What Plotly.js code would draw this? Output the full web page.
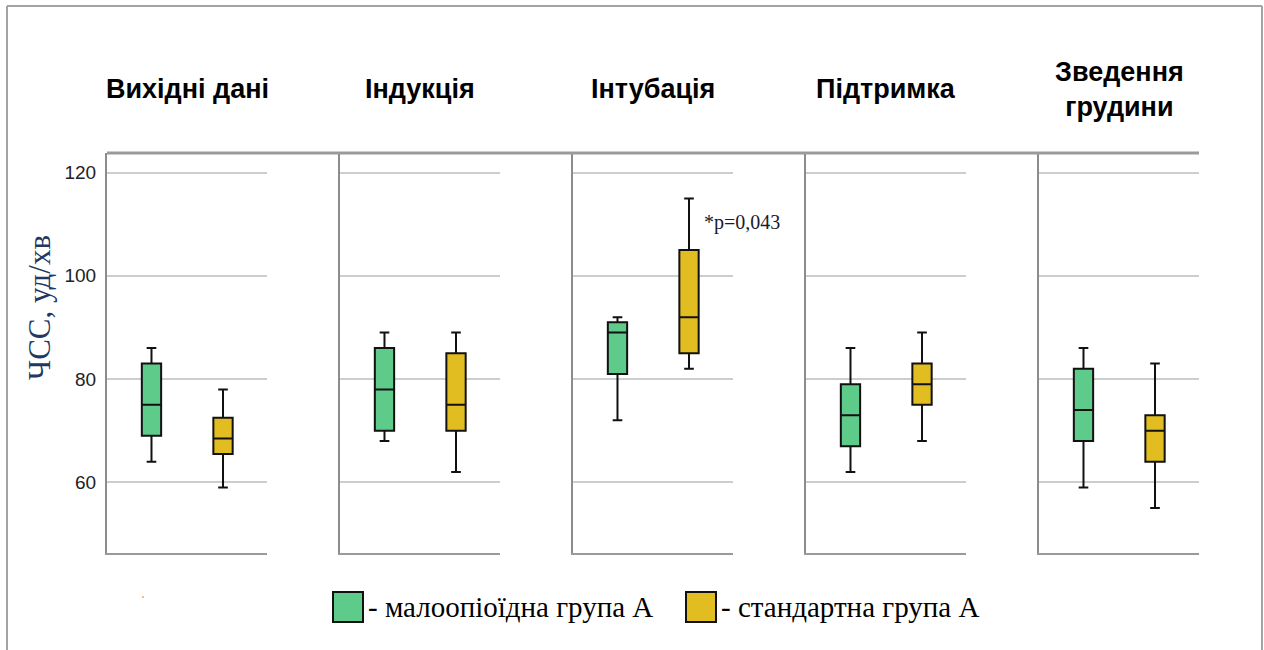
<!DOCTYPE html>
<html>
<head>
<meta charset="utf-8">
<script src="https://cdn.plot.ly/plotly-3.0.1.min.js"></script>
<style>
  html, body { margin: 0; padding: 0; background: #ffffff; }
  #chart { width: 1264px; height: 650px; }
</style>
</head>
<body>
<div id="chart"></div>
<script>
// ---- data ----
const stages = ['Вихідні дані', 'Індукція', 'Інтубація', 'Підтримка', 'Зведення<br>грудини'];
const groupNames = ['малоопіоїдна група А', 'стандартна група А'];

// малоопіоїдна група А (green)
const greenLower  = [64, 68, 72, 62, 59];
const greenQ1     = [69, 70, 81, 67, 68];
const greenMedian = [75, 78, 89, 73, 74];
const greenQ3     = [83, 86, 91, 79, 82];
const greenUpper  = [86, 89, 92, 86, 86];

// стандартна група А (yellow)
const yellowLower  = [59, 62, 82, 68, 55];
const yellowQ1     = [65.5, 70, 85, 75, 64];
const yellowMedian = [68.5, 75, 92, 79, 70];
const yellowQ3     = [72.5, 85, 105, 83, 73];
const yellowUpper  = [78, 89, 115, 89, 83];

const yTickVals = [60, 80, 100, 120];
const yTitle = 'ЧСС, уд/хв';
const pNote = '*p=0,043';
const pNoteStage = 2;

// ---- styling / layout helpers ----
const W = 1264, H = 650;
const M = {l: 107, r: 65, t: 153, b: 97};
const PW = W - M.l - M.r, PH = H - M.t - M.b;
const px = x => (x - M.l) / PW;        // page px -> paper x
const py = y => (H - M.b - y) / PH;     // page px -> paper y

const green = '#5ECB8B', yellow = '#E1BD21';
const panelStarts = [0, 233, 466, 699, 932];
const panelW = 160;
const yRange = [46.3, 123.8];
const xRange = [-0.622, 1.615];

const traces = [];
const layout = {
  width: W, height: H,
  margin: M,
  paper_bgcolor: '#ffffff',
  plot_bgcolor: '#ffffff',
  showlegend: false,
  font: {family: 'Liberation Sans, Arial, sans-serif', color: '#222'},
  shapes: [],
  annotations: []
};

stages.forEach((st, i) => {
  const n = i === 0 ? '' : String(i + 1);
  const xa = 'x' + n, ya = 'y' + n;
  traces.push({
    type: 'box', name: groupNames[0], x: [0],
    q1: [greenQ1[i]], median: [greenMedian[i]], q3: [greenQ3[i]],
    lowerfence: [greenLower[i]], upperfence: [greenUpper[i]],
    xaxis: xa, yaxis: ya, width: 0.27, whiskerwidth: 0.5,
    fillcolor: green, line: {color: '#111', width: 2}, boxpoints: false
  });
  traces.push({
    type: 'box', name: groupNames[1], x: [1],
    q1: [yellowQ1[i]], median: [yellowMedian[i]], q3: [yellowQ3[i]],
    lowerfence: [yellowLower[i]], upperfence: [yellowUpper[i]],
    xaxis: xa, yaxis: ya, width: 0.27, whiskerwidth: 0.5,
    fillcolor: yellow, line: {color: '#111', width: 2}, boxpoints: false
  });

  const s = panelStarts[i];
  layout['xaxis' + n] = {
    domain: [s / PW, (s + panelW) / PW],
    range: xRange, type: 'linear',
    showticklabels: false, ticks: '', showgrid: false, zeroline: false,
    showline: true, linecolor: '#9a9a9a', linewidth: 2,
    anchor: ya, fixedrange: true
  };
  const yax = {
    domain: [0, 1], range: yRange, anchor: xa,
    tickvals: yTickVals, showgrid: true, gridcolor: '#cdcdcd', gridwidth: 2,
    zeroline: false, showline: true, linecolor: '#8c8c8c', linewidth: 2,
    fixedrange: true, automargin: false
  };
  if (i === 0) {
    yax.showticklabels = true;
    yax.ticks = 'outside'; yax.ticklen = 5; yax.tickcolor = 'rgba(0,0,0,0)';
    yax.tickfont = {family: 'Liberation Sans, Arial, sans-serif', size: 19, color: '#222'};
  } else {
    yax.matches = 'y';
    yax.showticklabels = false;
    yax.ticks = '';
  }
  layout['yaxis' + n] = yax;

  // panel title
  layout.annotations.push({
    xref: xa + ' domain', yref: 'paper', x: 0.5, y: py(89),
    xanchor: 'center', yanchor: 'middle', showarrow: false,
    text: '<b>' + st + '</b>',
    font: {family: 'Liberation Sans, Arial, sans-serif', size: 27, color: '#000'}
  });
});

// y-axis title (placed as in the original, above the vertical centre)
layout.annotations.push({
  xref: 'paper', yref: 'paper', x: px(39), y: py(308),
  xanchor: 'center', yanchor: 'middle', showarrow: false, textangle: -90,
  text: yTitle,
  font: {family: 'Liberation Serif, Times New Roman, serif', size: 31, color: '#1F3864'}
});

// p-value note
layout.annotations.push({
  xref: 'x' + (pNoteStage + 1), yref: 'y' + (pNoteStage + 1),
  x: 1.18, y: 110.3, xanchor: 'left', yanchor: 'middle', showarrow: false,
  text: pNote,
  font: {family: 'Liberation Serif, Times New Roman, serif', size: 20, color: '#1a1a2e'}
});

// continuous top border across the panels
layout.shapes.push({type: 'line', xref: 'paper', yref: 'paper', x0: 0, x1: 1, y0: 1, y1: 1,
  line: {color: '#9a9a9a', width: 3}, layer: 'above'});

// outer frame
const frame = {color: '#a3a3a3', width: 2};
layout.shapes.push({type: 'line', xref: 'paper', yref: 'paper', x0: px(7), x1: px(1262), y0: py(6), y1: py(6), line: frame});
layout.shapes.push({type: 'line', xref: 'paper', yref: 'paper', x0: px(7), x1: px(7), y0: py(6), y1: py(650), line: frame});
layout.shapes.push({type: 'line', xref: 'paper', yref: 'paper', x0: px(1262), x1: px(1262), y0: py(6), y1: py(650), line: frame});

// custom legend
const legendItems = [
  {color: green, label: '- ' + groupNames[0], x: 333},
  {color: yellow, label: '- ' + groupNames[1], x: 686}
];
legendItems.forEach(it => {
  layout.shapes.push({type: 'rect', xref: 'paper', yref: 'paper',
    x0: px(it.x), x1: px(it.x + 30), y0: py(592), y1: py(622),
    fillcolor: it.color, line: {color: '#111', width: 2}});
  layout.annotations.push({xref: 'paper', yref: 'paper', x: px(it.x + 33), y: py(607),
    xanchor: 'left', yanchor: 'middle', showarrow: false, text: it.label,
    font: {family: 'Liberation Serif, Times New Roman, serif', size: 29, color: '#000'}});
});

// small stray dot seen in the original
layout.shapes.push({type: 'circle', xref: 'paper', yref: 'paper',
  x0: px(142), x1: px(144), y0: py(596), y1: py(598),
  fillcolor: '#f6a55a', line: {width: 0}});

Plotly.newPlot('chart', traces, layout, {staticPlot: true, displayModeBar: false});
</script>
</body>
</html>
